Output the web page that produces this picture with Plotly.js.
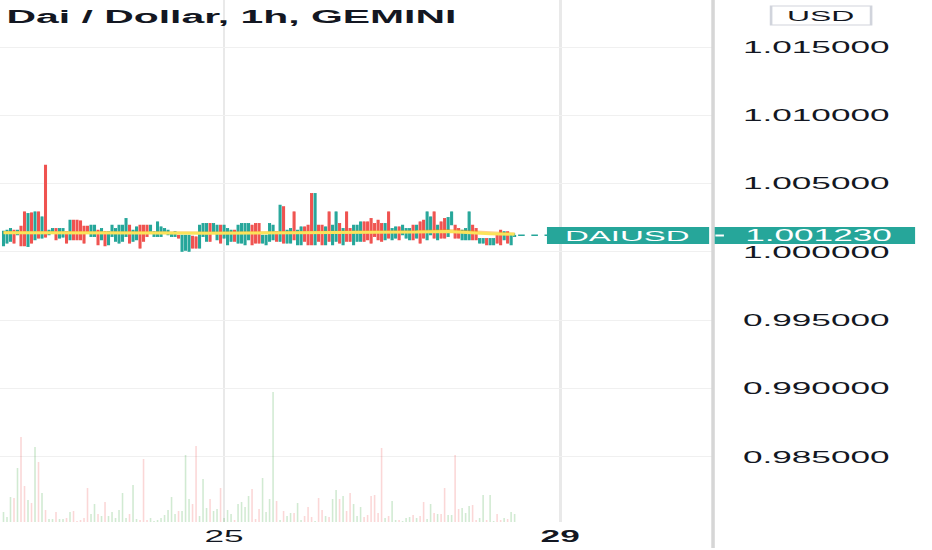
<!DOCTYPE html>
<html><head><meta charset="utf-8">
<script src="https://cdn.plot.ly/plotly-3.0.1.min.js"></script>
<style>
html,body{margin:0;padding:0;overflow:hidden;background:#fff;width:932px;height:550px}
#wrap{width:424px;height:550px;transform:scaleX(2.19811);transform-origin:0 0;}
</style></head><body>
<div id="wrap"><div id="chart" style="width:424px;height:550px"></div></div>
<script>
// Dai / Dollar, 1h, GEMINI — hourly candles; x = hours since the 25th 00:00
const firstHour = -63;
const open = [
1.00044,1.00063,1.00076,1.00161,1.00124,1.00190,1.00295,1.00039,1.00288,1.00088,
1.00295,1.00100,1.00637,1.00124,1.00137,1.00173,1.00100,1.00107,1.00149,1.00088,
1.00234,1.00234,1.00229,1.00190,1.00190,1.00112,1.00112,1.00161,1.00088,1.00149,
1.00051,1.00112,1.00076,1.00063,1.00076,1.00112,1.00198,1.00076,1.00088,1.00198,
1.00198,1.00198,1.00149,1.00112,1.00112,1.00112,1.00149,1.00124,1.00112,1.00112,
1.00124,1.00003,1.00010,1.00003,1.00117,1.00112,1.00027,1.00112,1.00076,1.00210,
1.00137,1.00088,1.00198,1.00100,1.00051,1.00076,1.00161,1.00063,1.00063,1.00051,
1.00088,1.00198,1.00210,1.00210,1.00063,1.00051,1.00076,1.00088,1.00149,1.00076,
1.00332,1.00063,1.00063,1.00295,1.00051,1.00051,1.00185,1.00198,1.00429,1.00051,
1.00198,1.00198,1.00051,1.00295,1.00051,1.00076,1.00210,1.00051,1.00295,1.00173,
1.00051,1.00076,1.00076,1.00222,1.00222,1.00246,1.00210,1.00234,1.00210,1.00088,
1.00295,1.00088,1.00100,1.00185,1.00124,1.00100,1.00088,1.00198,1.00100,1.00222,
1.00234,1.00088,1.00124,1.00295,1.00088,1.00222,1.00246,1.00112,1.00198,1.00198,
1.00173,1.00088,1.00088,1.00088,1.00198,1.00173,1.00063,1.00063,1.00100,1.00051,
1.00051,1.00137,1.00161,1.00088,1.00149,1.00051,1.00112];
const close = [
1.00154,1.00161,1.00173,1.00063,1.00161,1.00044,1.00044,1.00283,1.00063,1.00295,
1.00100,1.00258,1.00107,1.00161,1.00173,1.00088,1.00173,1.00173,1.00063,1.00234,
1.00088,1.00088,1.00088,1.00063,1.00137,1.00198,1.00198,1.00051,1.00173,1.00044,
1.00149,1.00198,1.00173,1.00198,1.00198,1.00246,1.00063,1.00161,1.00185,1.00027,
1.00076,1.00112,1.00198,1.00149,1.00222,1.00185,1.00173,1.00161,1.00137,1.00149,
1.00100,1.00124,1.00124,1.00124,1.00027,1.00027,1.00198,1.00210,1.00210,1.00076,
1.00210,1.00198,1.00063,1.00198,1.00173,1.00161,1.00076,1.00198,1.00210,1.00210,
1.00210,1.00051,1.00063,1.00063,1.00124,1.00124,1.00210,1.00198,1.00076,1.00344,
1.00063,1.00161,1.00173,1.00088,1.00161,1.00185,1.00076,1.00051,1.00051,1.00429,
1.00076,1.00051,1.00185,1.00076,1.00198,1.00295,1.00063,1.00173,1.00076,1.00076,
1.00198,1.00198,1.00222,1.00076,1.00088,1.00063,1.00112,1.00088,1.00076,1.00210,
1.00100,1.00173,1.00185,1.00088,1.00198,1.00173,1.00173,1.00088,1.00198,1.00063,
1.00100,1.00295,1.00258,1.00100,1.00198,1.00100,1.00100,1.00254,1.00295,1.00100,
1.00100,1.00161,1.00173,1.00295,1.00088,1.00088,1.00100,1.00100,1.00051,1.00100,
1.00100,1.00063,1.00051,1.00149,1.00063,1.00124,1.00123];
const high = [
1.00154,1.00161,1.00173,1.00161,1.00161,1.00190,1.00295,1.00283,1.00288,1.00295,
1.00295,1.00258,1.00637,1.00161,1.00173,1.00173,1.00173,1.00173,1.00149,1.00234,
1.00234,1.00234,1.00229,1.00190,1.00190,1.00198,1.00198,1.00161,1.00173,1.00149,
1.00149,1.00198,1.00173,1.00198,1.00198,1.00246,1.00198,1.00161,1.00185,1.00198,
1.00198,1.00198,1.00198,1.00149,1.00222,1.00185,1.00173,1.00161,1.00137,1.00149,
1.00124,1.00124,1.00124,1.00124,1.00117,1.00112,1.00198,1.00210,1.00210,1.00210,
1.00210,1.00198,1.00198,1.00198,1.00173,1.00161,1.00161,1.00198,1.00210,1.00210,
1.00210,1.00198,1.00210,1.00210,1.00124,1.00124,1.00210,1.00198,1.00149,1.00344,
1.00332,1.00161,1.00173,1.00295,1.00161,1.00185,1.00185,1.00198,1.00429,1.00429,
1.00198,1.00198,1.00185,1.00295,1.00198,1.00295,1.00210,1.00173,1.00295,1.00173,
1.00198,1.00198,1.00222,1.00222,1.00222,1.00246,1.00210,1.00234,1.00210,1.00210,
1.00295,1.00173,1.00185,1.00185,1.00198,1.00173,1.00173,1.00198,1.00198,1.00222,
1.00234,1.00295,1.00258,1.00295,1.00198,1.00222,1.00246,1.00254,1.00295,1.00198,
1.00173,1.00161,1.00173,1.00295,1.00198,1.00173,1.00100,1.00100,1.00100,1.00100,
1.00100,1.00137,1.00161,1.00149,1.00149,1.00124,1.00137];
const low = [
1.00044,1.00063,1.00076,1.00063,1.00124,1.00044,1.00044,1.00039,1.00063,1.00088,
1.00100,1.00100,1.00107,1.00124,1.00137,1.00088,1.00100,1.00107,1.00063,1.00088,
1.00088,1.00088,1.00088,1.00063,1.00137,1.00112,1.00112,1.00051,1.00088,1.00044,
1.00051,1.00112,1.00076,1.00063,1.00076,1.00112,1.00063,1.00076,1.00088,1.00027,
1.00076,1.00112,1.00149,1.00112,1.00112,1.00112,1.00149,1.00124,1.00112,1.00112,
1.00100,1.00003,1.00010,1.00003,1.00027,1.00027,1.00027,1.00112,1.00076,1.00076,
1.00137,1.00088,1.00063,1.00100,1.00051,1.00076,1.00076,1.00063,1.00063,1.00051,
1.00088,1.00051,1.00063,1.00063,1.00063,1.00051,1.00076,1.00088,1.00076,1.00076,
1.00063,1.00063,1.00063,1.00088,1.00051,1.00051,1.00076,1.00051,1.00051,1.00051,
1.00076,1.00051,1.00051,1.00076,1.00051,1.00076,1.00063,1.00051,1.00076,1.00076,
1.00051,1.00076,1.00076,1.00076,1.00088,1.00063,1.00112,1.00088,1.00076,1.00088,
1.00100,1.00088,1.00100,1.00088,1.00124,1.00100,1.00088,1.00088,1.00100,1.00063,
1.00100,1.00088,1.00124,1.00100,1.00088,1.00100,1.00100,1.00112,1.00198,1.00100,
1.00100,1.00088,1.00088,1.00088,1.00088,1.00088,1.00063,1.00063,1.00051,1.00051,
1.00051,1.00063,1.00051,1.00088,1.00063,1.00051,1.00112];
const volume = [
10,5,25,24,54,85,36,22,19,75,60,29,12,3,3,10,3,3,4,10,
11,1,2,4,34,8,18,8,6,20,6,10,4,12,29,4,8,37,3,2,
63,2,4,1,2,4,7,12,25,8,11,11,67,23,18,76,6,43,14,23,
11,13,34,4,12,8,2,18,20,15,26,33,3,13,44,10,23,130,21,
2,11,6,9,9,19,2,6,15,5,1,24,12,6,5,23,32,23,26,11,
29,18,6,15,5,7,26,27,9,74,4,6,21,2,2,1,4,5,7,4,
6,20,3,18,9,8,8,34,7,7,67,13,14,9,16,17,2,4,27,2,
27,1,8,2,4,3,10,8];
// moving averages
const maYellowX = [-63,-50,-35,-20,-5,10,25,40,55,64,70,76,83];
const maYellowY = [1.00140,1.00141,1.00142,1.00139,1.00137,1.00138,1.00141,1.00143,1.00146,1.00150,1.00140,1.00133,1.00130];
const maOrangeX = [-63,-40,-20,0,20,40,55,64,70,76,83];
const maOrangeY = [1.00146,1.00147,1.00144,1.00143,1.00145,1.00148,1.00153,1.00160,1.00152,1.00140,1.00135];
const yTicks = [0.985,0.990,0.995,1.000,1.005,1.010,1.015];
const xTickVals = [0,96];
const xTickText = ['25','<b>29</b>'];
const symbol = 'DAIUSD';
const titleText = 'Dai / Dollar, 1h, GEMINI';

const UP = '#26a69a', DN = '#ef5350';
const hours = open.map((_, i) => firstHour + i);
const volColors = close.map((c, i) => c >= open[i] ? 'rgba(76,175,80,0.26)' : 'rgba(239,83,80,0.23)');
const last = close[close.length - 1];
const FONT = 'Liberation Sans, Arial, sans-serif';

const traces = [
  {type:'bar', x:hours, y:volume, yaxis:'y2', width:0.45, marker:{color:volColors, line:{width:0}}, hoverinfo:'skip', showlegend:false},
  {type:'candlestick', x:hours, open:open, high:high, low:low, close:close,
   increasing:{line:{color:UP, width:0.5}, fillcolor:UP},
   decreasing:{line:{color:DN, width:0.5}, fillcolor:DN},
   whiskerwidth:0, hoverinfo:'skip', showlegend:false},
  {type:'scatter', mode:'lines', x:maOrangeX, y:maOrangeY, line:{color:'rgba(255,152,0,0.45)', width:2}, hoverinfo:'skip', showlegend:false},
  {type:'scatter', mode:'lines', x:maYellowX, y:maYellowY, line:{color:'#fbe35a', width:3}, hoverinfo:'skip', showlegend:false}
];

const lblY0 = (522-244)/522, lblY1 = (522-227)/522, lblYc = (522-235.5)/522;
const layout = {
  width:424, height:550,
  margin:{l:0, r:100, t:0, b:28},
  paper_bgcolor:'#ffffff', plot_bgcolor:'#ffffff',
  font:{family:FONT, color:'#131722'},
  boxgap:0.2,
  showlegend:false,
  xaxis:{range:[-64,139.43], tickvals:xTickVals, ticktext:xTickText, showgrid:true, gridcolor:'#e9e9e9', gridwidth:1.3,
         zeroline:false, showline:false, ticks:'', tickfont:{size:16, color:'#131722'}, ticklabelstandoff:3,
         rangeslider:{visible:false}, fixedrange:true},
  yaxis:{side:'right', range:[0.98024,1.01844], tickvals:yTicks, tickformat:'.6f', showgrid:true, gridcolor:'#f0f0f0', gridwidth:1,
         zeroline:false, showline:false, ticks:'', tickfont:{size:16, color:'#131722'}, ticklabelstandoff:13, fixedrange:true},
  yaxis2:{overlaying:'y', range:[0,522], visible:false, fixedrange:true},
  shapes:[
    {type:'line', xref:'paper', yref:'paper', x0:1.0012, x1:1.0012, y0:-0.05, y1:1, line:{color:'#d6d6d6', width:1.6}},
    {type:'line', xref:'x', yref:'y', x0:84, x1:92.3, y0:last, y1:last, line:{color:UP, width:1.5, dash:'dot'}},
    {type:'rect', xref:'paper', yref:'paper', x0:0.768, x1:0.9957, y0:lblY0, y1:lblY1, fillcolor:UP, line:{width:0}},
    {type:'rect', xref:'paper', yref:'paper', x0:1.0035, x1:1.2849, y0:lblY0, y1:lblY1, fillcolor:UP, line:{width:0}},
    {type:'line', xref:'paper', yref:'paper', x0:1.0045, x1:1.0165, y0:lblYc, y1:lblYc, line:{color:'#ffffff', width:2}},
    {type:'rect', xref:'paper', yref:'paper', x0:1.0827, x1:1.2231, y0:(522-25)/522, y1:(522-6)/522, fillcolor:'#ffffff', line:{color:'#d1d4dc', width:1.2}}
  ],
  annotations:[
    {xref:'paper', yref:'paper', x:0, y:(522-16)/522, xanchor:'left', yanchor:'middle', xshift:0.5, showarrow:false,
     text:titleText, font:{family:FONT, size:18.6, color:'#131722', weight:'bold'}},
    {xref:'paper', yref:'paper', x:1.1528, y:(522-15.5)/522, xanchor:'center', yanchor:'middle', showarrow:false,
     text:'USD', font:{family:FONT, size:14.5, color:'#131722'}},
    {xref:'paper', yref:'paper', x:0.8815, y:lblYc, xanchor:'center', yanchor:'middle', showarrow:false,
     text:symbol, font:{family:FONT, size:15, color:'#ffffff'}},
    {xref:'paper', yref:'paper', x:1.0395, y:lblYc, xanchor:'left', yanchor:'middle', showarrow:false,
     text:last.toFixed(6), font:{family:FONT, size:16, color:'#ffffff'}}
  ]
};
Plotly.newPlot('chart', traces, layout, {displayModeBar:false, staticPlot:true});
</script></body></html>
